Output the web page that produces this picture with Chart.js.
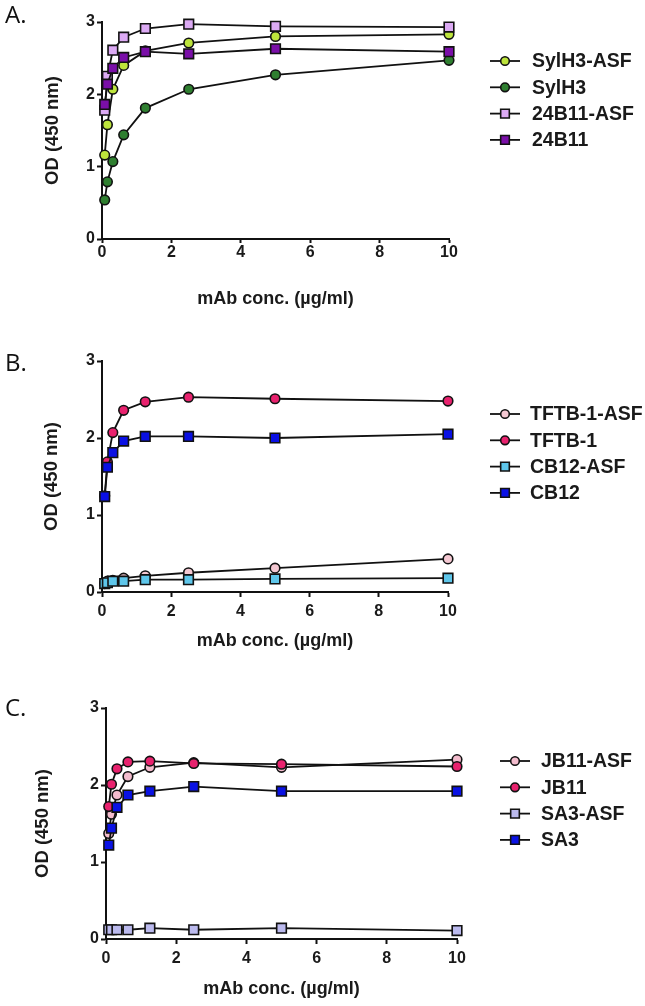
<!DOCTYPE html>
<html>
<head>
<meta charset="utf-8">
<script src="https://cdn.jsdelivr.net/npm/chart.js@4.4.1/dist/chart.umd.min.js"></script>
<style>
  body { margin: 0; background: #fff; }
  #page { position: relative; width: 645px; height: 1006px; overflow: hidden; }
  .panel { position: absolute; left: 0; width: 645px; }
  .panel canvas { display: block; }
  .tag { position: absolute; left: 5px; font: 24px/24px "Open Sans", sans-serif; color: #111; }
</style>
</head>
<body>
<div id="page">
  <div class="panel" style="top:0;height:330px"><canvas id="chartA" width="645" height="330"></canvas></div>
  <div class="panel" style="top:330px;height:330px"><canvas id="chartB" width="645" height="330"></canvas></div>
  <div class="panel" style="top:660px;height:346px"><canvas id="chartC" width="645" height="346"></canvas></div>
  <div class="tag" style="top:2px">A.</div>
  <div class="tag" style="top:350px">B.</div>
  <div class="tag" style="top:695px">C.</div>
</div>
<script>
  //---------------------------------------------------
  // Data
  //---------------------------------------------------

  // mAb concentrations (ug/ml)
  const conc = [0.078, 0.156, 0.3125, 0.625, 1.25, 2.5, 5, 10];
  const xTicks = [0, 2, 4, 6, 8, 10];
  const yTicks = [0, 1, 2, 3];

  // Panel A
  const sylh3Asf = [1.16, 1.58, 2.07, 2.40, 2.60, 2.71, 2.80, 2.83];
  const sylh3    = [0.54, 0.79, 1.07, 1.44, 1.81, 2.07, 2.27, 2.47];
  const b24Asf   = [1.78, 2.25, 2.61, 2.79, 2.91, 2.97, 2.94, 2.93];
  const b24      = [1.86, 2.14, 2.36, 2.51, 2.59, 2.56, 2.63, 2.59];

  // Panel B
  const tftbAsf  = [0.11, 0.14, 0.15, 0.18, 0.21, 0.25, 0.31, 0.43];
  const tftb     = [1.25, 1.69, 2.07, 2.36, 2.47, 2.53, 2.51, 2.48];
  const cb12Asf  = [0.11, 0.12, 0.14, 0.14, 0.16, 0.16, 0.17, 0.18];
  const cb12     = [1.24, 1.62, 1.81, 1.96, 2.02, 2.02, 2.00, 2.05];

  // Panel C
  const jb11Asf  = [1.37, 1.62, 1.87, 2.11, 2.23, 2.29, 2.23, 2.33];
  const jb11     = [1.72, 2.01, 2.21, 2.30, 2.31, 2.28, 2.27, 2.24];
  const sa3Asf   = [0.12, 0.12, 0.12, 0.12, 0.14, 0.12, 0.14, 0.11];
  const sa3      = [1.22, 1.44, 1.71, 1.87, 1.92, 1.98, 1.92, 1.92];

  //---------------------------------------------------
  // Helpers
  //---------------------------------------------------

  const FONT = '"Liberation Sans", Arial, sans-serif';
  const INK = '#1a1a1a';

  function series(label, values, color, shape) {
    return {
      label: label,
      data: values.map((v, i) => ({ x: conc[i], y: v })),
      borderColor: '#111',
      borderWidth: 1.8,
      pointStyle: shape,
      pointRadius: shape === 'rect' ? 6.8 : 4.8,
      pointBorderWidth: 1.6,
      pointBorderColor: '#111',
      pointBackgroundColor: color,
      tension: 0,
      clip: false,
    };
  }

  function marker(ctx, shape, r, x, y) {
    ctx.beginPath();
    if (shape === 'rect') {
      const s = Math.SQRT1_2 * r;
      ctx.rect(x - s, y - s, 2 * s, 2 * s);
    } else {
      ctx.arc(x, y, r, 0, Math.PI * 2);
    }
    ctx.fill();
    ctx.stroke();
  }

  // legend with line + marker, drawn right of the plot
  const sideLegend = {
    id: 'sideLegend',
    afterDraw(chart, args, opts) {
      const ctx = chart.ctx;
      ctx.save();
      chart.data.datasets.forEach((ds, i) => {
        const y = opts.y + i * opts.gap;
        ctx.strokeStyle = '#111';
        ctx.lineWidth = 1.8;
        ctx.beginPath();
        ctx.moveTo(opts.x, y);
        ctx.lineTo(opts.x + 30, y);
        ctx.stroke();
        ctx.fillStyle = ds.pointBackgroundColor;
        ctx.lineWidth = ds.pointBorderWidth;
        marker(ctx, ds.pointStyle, ds.pointRadius * 0.9, opts.x + 15, y);
        ctx.fillStyle = INK;
        ctx.font = 'bold 19.5px ' + FONT;
        ctx.textBaseline = 'middle';
        ctx.fillText(ds.label, opts.x + opts.textGap, y + 1);
      });
      ctx.restore();
    },
  };

  function makeChart(id, datasets, cfg) {
    const n = datasets.length;
    datasets.forEach((ds, i) => { ds.order = n - i; }); // later series on top

    return new Chart(document.getElementById(id), {
      type: 'line',
      data: { datasets: datasets },
      options: {
        responsive: false,
        animation: false,
        events: [],
        layout: { padding: { left: 0, right: cfg.right, top: cfg.top, bottom: 0 } },
        plugins: {
          legend: { display: false },
          tooltip: { enabled: false },
          sideLegend: cfg.legend,
        },
        scales: {
          x: {
            type: 'linear',
            min: 0,
            max: 10,
            afterBuildTicks: (s) => { s.ticks = xTicks.map((v) => ({ value: v })); },
            afterFit: (s) => { s.height = cfg.xHeight; },
            grid: { drawOnChartArea: false, drawTicks: true, tickLength: cfg.xTickLen, tickWidth: 2, tickColor: '#111' },
            border: { color: '#111', width: 2 },
            ticks: { color: INK, padding: cfg.xPad, maxRotation: 0, font: { family: FONT, size: 16, weight: 'bold' } },
            title: {
              display: true,
              text: 'mAb conc. (µg/ml)',
              color: INK,
              font: { family: FONT, size: 18, weight: 'bold' },
              padding: { top: 0, bottom: cfg.xTitlePad },
            },
          },
          y: {
            min: 0,
            max: 3,
            afterBuildTicks: (s) => { s.ticks = yTicks.map((v) => ({ value: v })); },
            afterFit: (s) => { s.width = cfg.left; },
            grid: { drawOnChartArea: false, drawTicks: true, tickLength: 5, tickWidth: 2, tickColor: '#111' },
            border: { color: '#111', width: 2 },
            ticks: { color: INK, padding: 2, font: { family: FONT, size: 16, weight: 'bold' } },
            title: {
              display: true,
              text: 'OD (450 nm)',
              color: INK,
              font: { family: FONT, size: 18.5, weight: 'bold' },
              padding: { top: cfg.yTitlePad, bottom: 0 },
            },
          },
        },
      },
      plugins: [sideLegend],
    });
  }

  //---------------------------------------------------
  // Charts
  //---------------------------------------------------

  makeChart('chartA', [
    series('SylH3-ASF', sylh3Asf, '#bde43c', 'circle'),
    series('SylH3', sylh3, '#2f7f30', 'circle'),
    series('24B11-ASF', b24Asf, '#dcaaf4', 'rect'),
    series('24B11', b24, '#7a0fa8', 'rect'),
  ], {
    left: 102, right: 196, top: 22, xHeight: 91,
    xTickLen: 4, xPad: 0, xTitlePad: 20, yTitlePad: 42,
    legend: { x: 490, y: 61, gap: 26.3, textGap: 42 },
  });

  makeChart('chartB', [
    series('TFTB-1-ASF', tftbAsf, '#f4c8d2', 'circle'),
    series('TFTB-1', tftb, '#e8226e', 'circle'),
    series('CB12-ASF', cb12Asf, '#5ec6ea', 'rect'),
    series('CB12', cb12, '#0a10e4', 'rect'),
  ], {
    left: 102, right: 197, top: 31, xHeight: 68,
    xTickLen: 5, xPad: 5, xTitlePad: 8, yTitlePad: 41,
    legend: { x: 490, y: 414 - 330, gap: 26.3, textGap: 40 },
  });

  makeChart('chartC', [
    series('JB11-ASF', jb11Asf, '#f3bccd', 'circle'),
    series('JB11', jb11, '#e8226e', 'circle'),
    series('SA3-ASF', sa3Asf, '#bbbaee', 'rect'),
    series('SA3', sa3, '#0a12e4', 'rect'),
  ], {
    left: 106, right: 188, top: 48, xHeight: 67,
    xTickLen: 5, xPad: 5, xTitlePad: 6, yTitlePad: 32,
    legend: { x: 500, y: 761 - 660, gap: 26.3, textGap: 41 },
  });
</script>
</body>
</html>
